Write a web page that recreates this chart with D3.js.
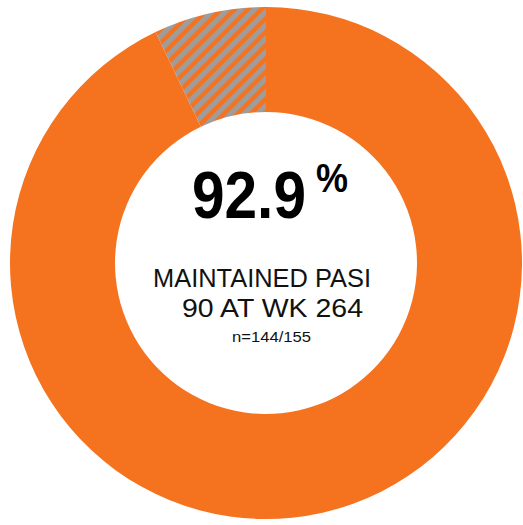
<!DOCTYPE html>
<html>
<head>
<meta charset="utf-8">
<script src="https://cdn.jsdelivr.net/npm/d3@7"></script>
<style>
  html, body { margin: 0; padding: 0; background: #ffffff; }
  svg { display: block; }
</style>
</head>
<body>
<script>
// Share of patients who maintained PASI 90 at week 264
const categories = ["Maintained", "Not maintained"];
const values = [92.9, 7.1];
const headline = "92.9";
const labelLines = ["MAINTAINED PASI", "90 AT WK 264"];
const countLabel = "n=144/155";

const W = 523, H = 525;
const cx = 266, cy = 263;
const outerR = 256, innerR = 151;

const svg = d3.select("body").append("svg")
  .attr("width", W).attr("height", H);

// diagonal hatch for the remaining share
const defs = svg.append("defs");
const pat = defs.append("pattern")
  .attr("id", "hatch")
  .attr("patternUnits", "userSpaceOnUse")
  .attr("width", 9.5).attr("height", 9.5)
  .attr("patternTransform", "rotate(45)");
pat.append("rect").attr("width", 9.5).attr("height", 9.5).attr("fill", "#f5721f");
pat.append("rect").attr("x", 0).attr("width", 5.2).attr("height", 9.5).attr("fill", "#9f9c9b");

const color = d3.scaleOrdinal()
  .domain(categories)
  .range(["#f5721f", "url(#hatch)"]);

const pie = d3.pie().sort(null).value(d => d.value);
const arc = d3.arc().innerRadius(innerR).outerRadius(outerR);

const data = categories.map((c, i) => ({ category: c, value: values[i] }));

const g = svg.append("g").attr("transform", `translate(${cx},${cy})`);
g.selectAll("path")
  .data(pie(data))
  .join("path")
  .attr("d", arc)
  .attr("fill", d => color(d.data.category));

// centre labels
const font = "Liberation Sans, Arial, Helvetica, sans-serif";

// headline figure, slightly condensed
svg.append("text")
  .attr("transform", "translate(192,218) scale(0.874,1)")
  .attr("font-family", font)
  .attr("font-weight", "bold")
  .attr("font-size", 67)
  .attr("fill", "#000")
  .text(headline);

svg.append("text")
  .attr("transform", "translate(316,192) scale(0.9,1)")
  .attr("font-family", font)
  .attr("font-weight", "bold")
  .attr("font-size", 40)
  .attr("fill", "#000")
  .text("%");

svg.append("text")
  .attr("x", 153).attr("y", 287)
  .attr("font-family", font)
  .attr("font-size", 26.5)
  .attr("fill", "#111")
  .attr("textLength", 218)
  .attr("lengthAdjust", "spacingAndGlyphs")
  .text(labelLines[0]);

svg.append("text")
  .attr("x", 182).attr("y", 317)
  .attr("font-family", font)
  .attr("font-size", 26.5)
  .attr("fill", "#111")
  .attr("textLength", 181)
  .attr("lengthAdjust", "spacingAndGlyphs")
  .text(labelLines[1]);

svg.append("text")
  .attr("x", 232).attr("y", 342)
  .attr("font-family", font)
  .attr("font-size", 15)
  .attr("fill", "#111")
  .attr("textLength", 79)
  .attr("lengthAdjust", "spacingAndGlyphs")
  .text(countLabel);
</script>
</body>
</html>
